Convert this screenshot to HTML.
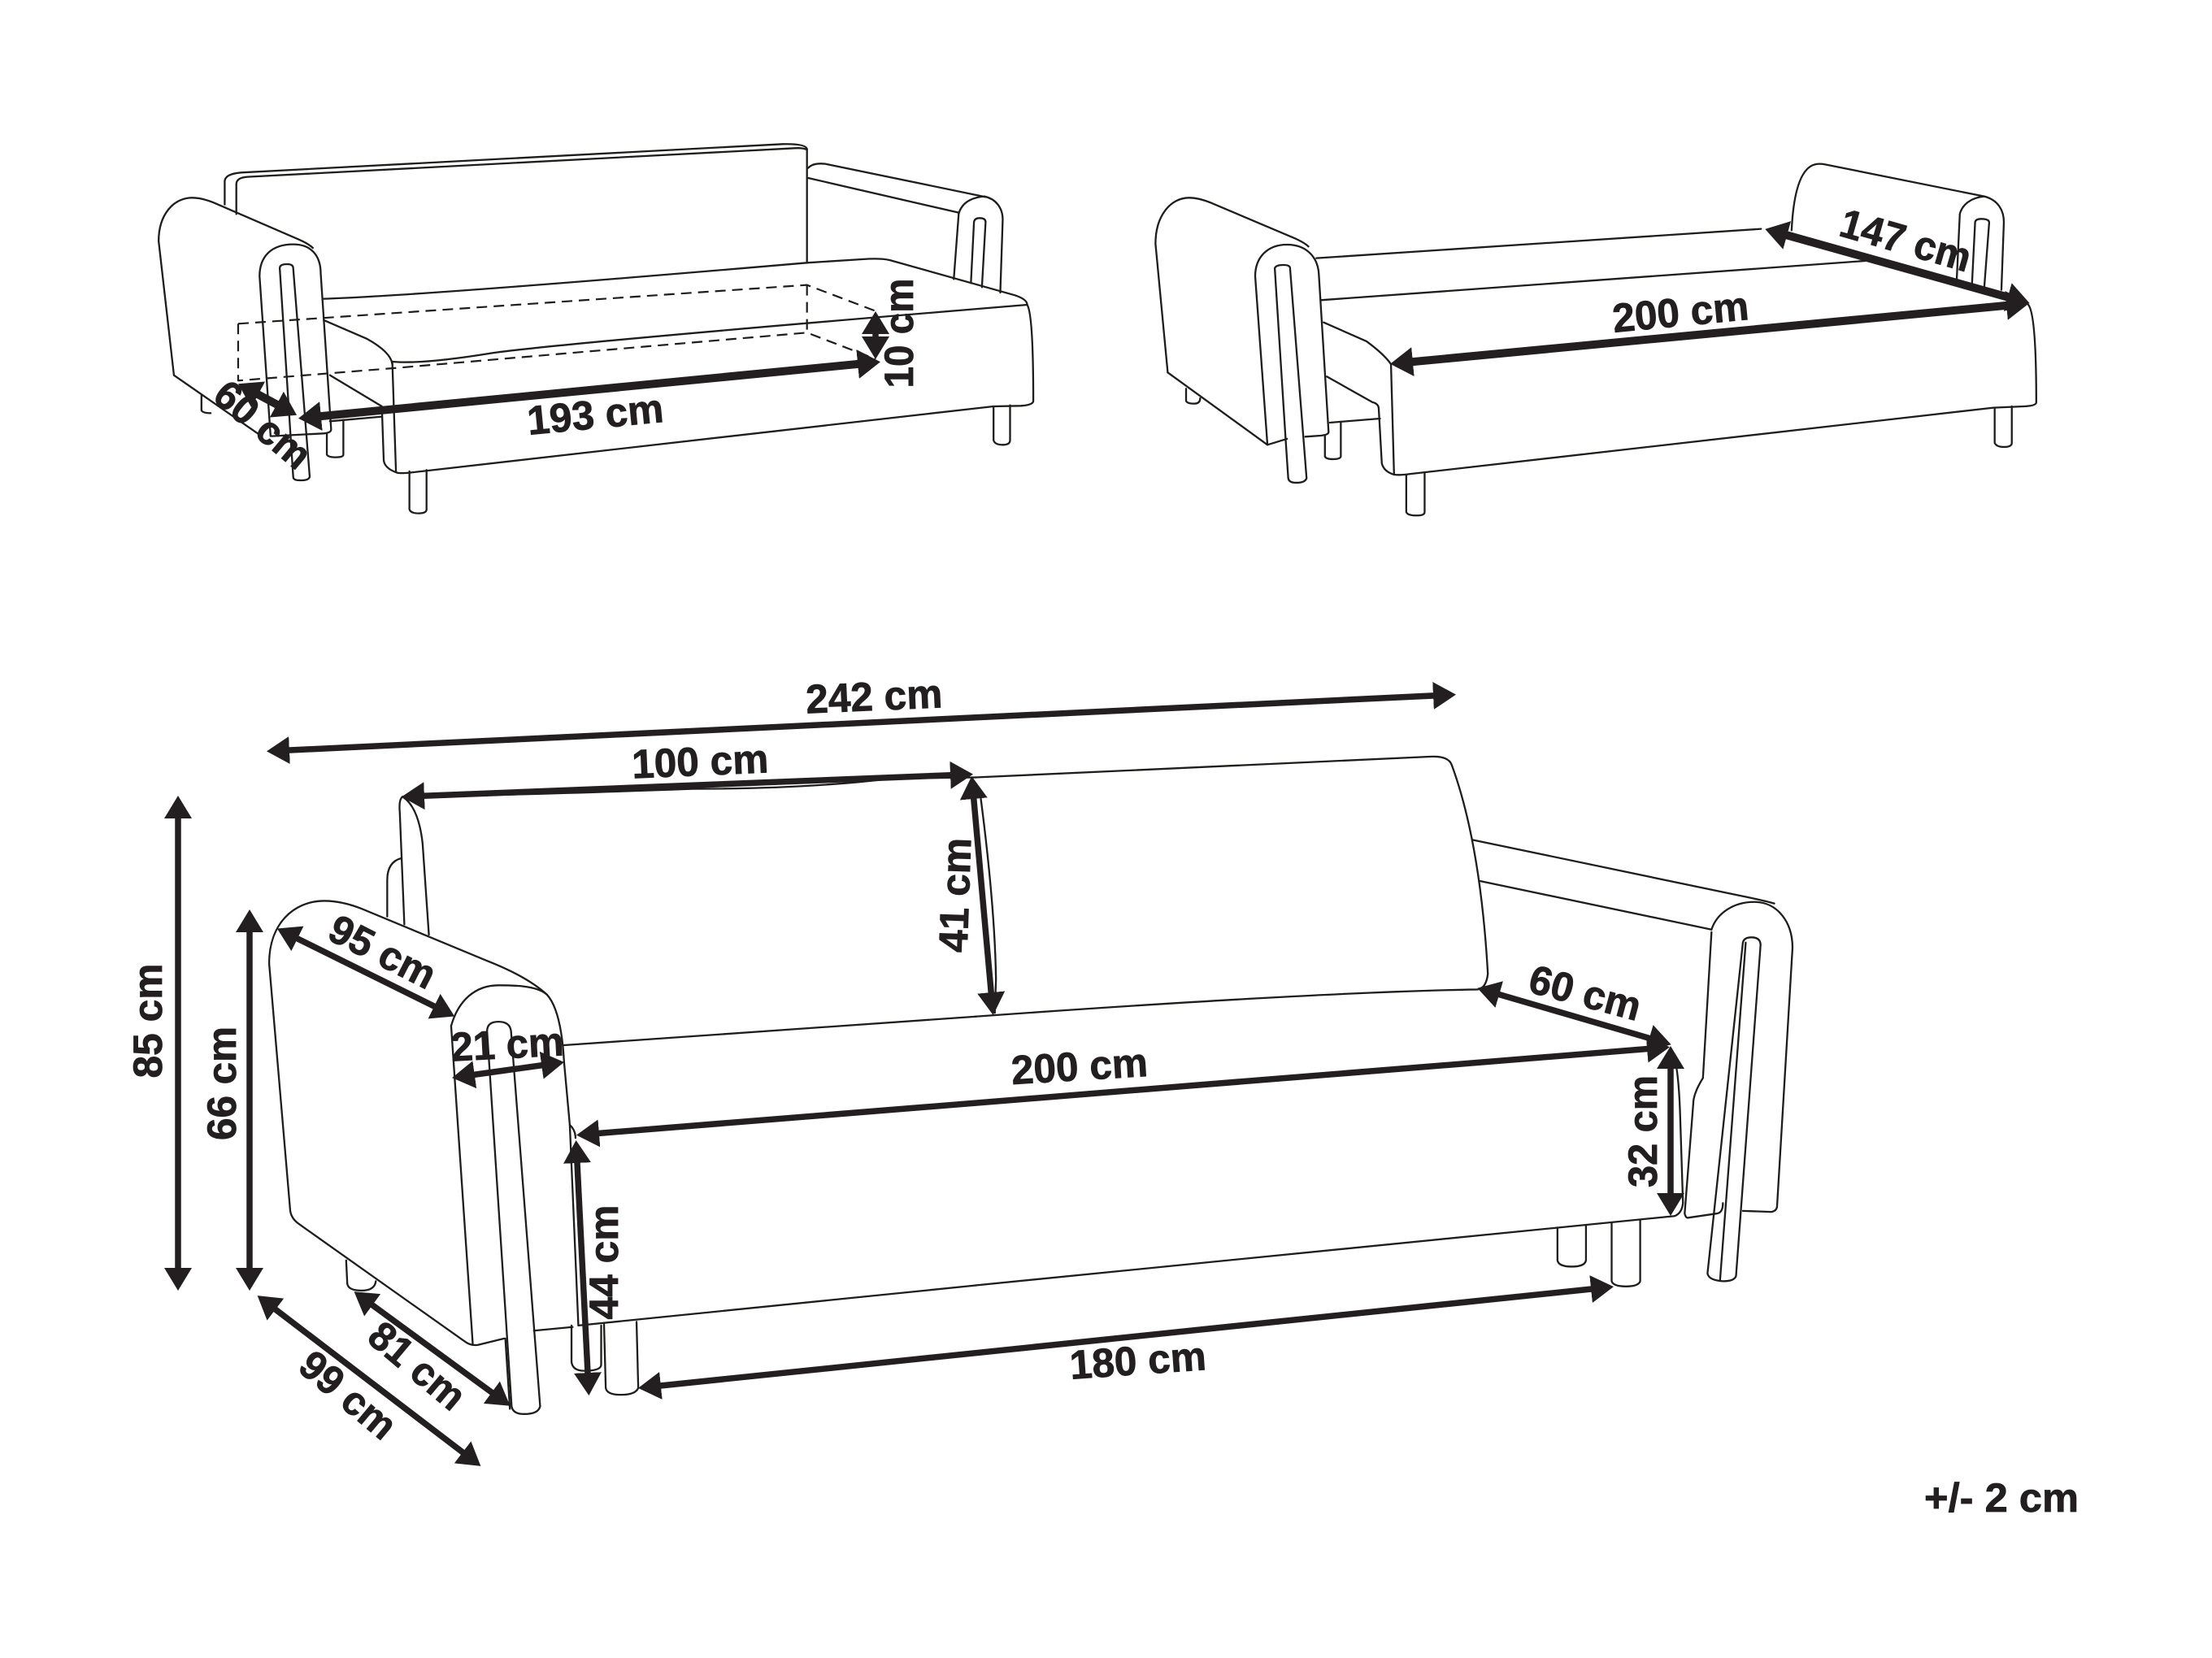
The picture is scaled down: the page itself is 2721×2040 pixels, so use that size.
<!DOCTYPE html>
<html>
<head>
<meta charset="utf-8">
<title>Sofa dimensions</title>
<style>
html,body{margin:0;padding:0;background:#fff}
svg{display:block}
.d path{fill:none;stroke:#1d1d1b;stroke-width:2.3;vector-effect:non-scaling-stroke;stroke-linecap:round;stroke-linejoin:round}
.d path.dash{stroke-dasharray:13 8;stroke-width:2.2;stroke-linecap:butt}
.a line{stroke:#231f20;stroke-width:7.5;marker-start:url(#h);marker-end:url(#h)}
.b line{stroke:#231f20;stroke-width:10;marker-start:url(#h2);marker-end:url(#h2)}
text{font-family:"Liberation Sans",sans-serif;font-weight:700;font-size:50px;fill:#231f20;stroke:#231f20;stroke-width:.8;text-anchor:middle}
</style>
</head>
<body>
<svg xmlns="http://www.w3.org/2000/svg" width="2721" height="2040" viewBox="0 0 2721 2040">
<defs>
<marker id="h" markerUnits="userSpaceOnUse" markerWidth="40" markerHeight="40" viewBox="0 -20 40 40" refX="20" refY="0" orient="auto-start-reverse"><path d="M0,-17 L28,0 L0,17 Z" fill="#231f20"/></marker>
<marker id="h2" markerUnits="userSpaceOnUse" markerWidth="40" markerHeight="40" viewBox="0 -20 40 40" refX="20" refY="0" orient="auto-start-reverse"><path d="M0,-18 L28,0 L0,18 Z" fill="#231f20"/></marker>
</defs>
<rect width="2721" height="2040" fill="#fff"/>

<!-- Top-left sofa -->
<g class="d" transform="translate(150,140) scale(0.7524,0.3333)">
<path d="M168,335 V250 Q168,222 195,217 L1080,112 Q1118,110 1120,130 V550"/>
<path d="M187,370 V260 Q187,236 205,233 L1100,127 Q1112,125 1120,132"/>
<path d="M1122,200 Q1130,180 1150,185 L1412,307"/>
<path d="M1122,237 L1368,365"/>
<path d="M1360,610 L1368,370 C1372,335 1385,310 1410,305 C1430,315 1440,350 1440,390 L1436,660"/>
<path d="M1388,625 L1393,400 Q1394,385 1402,385 Q1412,385 1412,400 L1406,640"/>
<path d="M85,965 L60,470 C60,370 85,310 115,310 Q130,310 150,328 L290,465 Q305,480 312,495"/>
<path d="M85,965 L225,1185"/>
<path d="M243,1190 L225,600 C225,525 245,482 280,482 C310,482 325,525 325,590 L342,1165 Q342,1178 330,1180 L245,1190"/>
<path d="M258,570 Q258,555 270,555 Q280,555 280,570 L307,1340 Q305,1355 290,1353 Q280,1353 280,1340 L258,570"/>
<path d="M130,1040 V1095 Q132,1105 145,1105"/>
<path d="M335,1180 V1258 Q337,1268 350,1268 Q362,1268 362,1258 V1130"/>
<path d="M330,683 Q500,670 1120,550 L1210,537 Q1240,532 1255,540 L1460,670 Q1480,685 1480,705"/>
<path d="M330,762 L400,830 Q440,880 442,925"/>
<path d="M442,915 Q490,925 600,885 Q700,850 1480,705"/>
<path d="M1480,705 Q1490,740 1490,1060 Q1490,1075 1470,1078 L1425,1080 L470,1325 Q455,1328 450,1325 Q430,1310 428,1280 L425,1085"/>
<path d="M442,915 L448,1320"/>
<path d="M340,965 L425,1080"/>
<path d="M340,1135 L425,1118"/>
<path d="M470,1320 V1460 Q472,1475 485,1475 Q498,1475 498,1460 V1315"/>
<path d="M1425,1082 V1205 Q1427,1222 1440,1222 Q1452,1222 1452,1205 V1076"/>
<path class="dash" d="M190,775 L1120,632 L1232,728"/>
<path class="dash" d="M190,775 V985 L450,938 L1120,808 L1232,905"/>
<path class="dash" d="M1120,632 V810"/>
</g>

<!-- Top-right sofa -->
<g class="d" transform="translate(1380,140) scale(0.7524,0.3333)">
<path d="M75,955 L55,480 C55,375 80,310 110,310 Q125,310 145,328 L285,462 Q300,478 305,490"/>
<path d="M75,955 L238,1222 L270,1200"/>
<path d="M300,1192 L325,1188 Q338,1185 338,1175 L322,590 C320,525 300,483 270,483 C238,483 218,530 218,600 L238,1222"/>
<path d="M250,570 Q252,558 264,558 Q275,558 275,570 L302,1345 Q300,1362 285,1362 Q273,1362 272,1345 L268,1210 L250,570"/>
<path d="M318,533 L1045,425"/>
<path d="M325,688 Q400,680 1215,543"/>
<path d="M330,770 L400,840 Q430,890 440,925 L445,1330"/>
<path d="M1482,705 Q1495,740 1495,1065 Q1495,1078 1475,1080 L1425,1085 L470,1330 Q455,1335 445,1332 Q428,1320 425,1290 L420,1090 Q420,1070 410,1065 L335,970"/>
<path d="M340,1140 L422,1125"/>
<path d="M105,1015 V1060 Q107,1070 118,1070 Q128,1070 128,1050"/>
<path d="M332,1190 V1265 Q334,1275 345,1275 Q357,1275 358,1265 V1140"/>
<path d="M465,1335 V1470 Q467,1483 482,1483 Q495,1483 495,1470 V1325"/>
<path d="M1427,1085 V1215 Q1430,1230 1442,1230 Q1455,1230 1455,1215 V1080"/>
<path d="M1095,430 C1098,290 1110,185 1140,185 Q1145,185 1150,187 L1410,305 C1432,318 1442,355 1442,400 L1438,650"/>
<path d="M1365,610 L1370,370 C1374,335 1388,310 1410,305"/>
<path d="M1390,625 L1395,400 Q1396,388 1405,388 Q1418,388 1418,402 L1410,640"/>
</g>

<!-- Main sofa, left part -->
<g class="d" transform="translate(150,820) scale(0.7018,0.641)">
<path d="M492,250 Q700,247 1000,235 Q1200,235 1350,215 L1497,213"/>
<path d="M492,250 Q485,255 487,280 L495,495"/>
<path d="M492,250 Q520,270 527,340 L538,515"/>
<path d="M465,480 V410 Q465,375 490,368"/>
<path d="M1505,250 Q1530,460 1532,600 L1530,665"/>
<path d="M258,570 C258,495 300,450 355,450 Q385,450 420,465 L640,565 Q710,595 745,630 Q770,660 775,760 L785,880 L800,1265"/>
<path d="M577,690 C590,640 620,612 660,612 C700,612 730,615 745,630"/>
<path d="M577,690 L615,1302"/>
<path d="M258,570 L295,1045 Q297,1060 310,1070 L600,1295 Q612,1305 625,1302 L670,1290"/>
<path d="M640,700 Q640,682 660,682 Q680,682 682,700 L733,1420 Q730,1435 705,1435 Q685,1435 683,1420 L640,700"/>
<path d="M672,1290 L680,1425"/>
<path d="M393,1140 L395,1185 Q397,1198 420,1198 Q443,1198 445,1180"/>
<path d="M788,1265 V1335 Q790,1352 810,1352 Q840,1352 840,1340 V1265"/>
<path d="M845,1263 L848,1385 Q850,1398 875,1398 Q900,1398 905,1385 L902,1258"/>
<path d="M722,1275 L790,1268"/>
<path d="M800,1265 L1497,1188"/>
<path d="M775,727 L1497,672"/>
<path d="M785,880 Q795,890 795,905"/>
</g>

<!-- Main sofa, right part -->
<g class="d" transform="translate(1200,820) scale(0.7018,0.641)">
<path d="M0,213 L800,173 Q830,172 835,190 Q885,340 898,590 Q895,618 880,620 Q600,625 0,672"/>
<path d="M872,333 L1340,440 Q1385,450 1400,455"/>
<path d="M885,412 L1290,505"/>
<path d="M1290,505 C1300,472 1330,452 1365,452 C1405,452 1432,490 1432,540 L1405,1035 Q1405,1045 1395,1047 L1345,1045"/>
<path d="M1290,510 L1275,790 Q1258,820 1258,840 L1243,1050 Q1245,1060 1250,1058 L1300,1050 Q1310,1048 1310,1030"/>
<path d="M1345,530 Q1347,520 1360,520 Q1376,520 1376,535 L1333,1170 Q1330,1180 1310,1180 Q1285,1178 1283,1165 L1345,530"/>
<path d="M1350,530 L1305,1178"/>
<path d="M1220,735 Q1232,760 1235,860 L1240,1030 Q1238,1050 1225,1055 L0,1188"/>
<path d="M1020,1077 V1140 Q1022,1152 1045,1152 Q1068,1152 1070,1140 V1072"/>
<path d="M1115,1068 V1180 Q1118,1190 1140,1190 Q1162,1190 1165,1180 V1062"/>
</g>

<!-- Dimension arrows, main view -->
<g class="a">
<line x1="336" y1="924" x2="1783" y2="855"/>
<line x1="502" y1="980" x2="1189" y2="953"/>
<line x1="1196" y1="963" x2="1221" y2="1241"/>
<line x1="219" y1="987" x2="219" y2="1580"/>
<line x1="307" y1="1127" x2="307" y2="1580"/>
<line x1="348" y1="1146" x2="552" y2="1247"/>
<line x1="564" y1="1325" x2="686" y2="1308"/>
<line x1="717" y1="1396" x2="2046" y2="1289"/>
<line x1="709" y1="1411" x2="724" y2="1709"/>
<line x1="793" y1="1707" x2="1977" y2="1584"/>
<line x1="1825" y1="1218" x2="2048" y2="1283"/>
<line x1="2055" y1="1295" x2="2055" y2="1488"/>
<line x1="442" y1="1594" x2="621" y2="1725"/>
<line x1="323" y1="1599" x2="585" y2="1799"/>
</g>

<!-- Dimension arrows, top views -->
<g class="b">
<line x1="375" y1="514" x2="1075" y2="446"/>
<line x1="300" y1="476" x2="358" y2="507"/>
<line x1="1718" y1="447" x2="2488" y2="374"/>
<line x1="2179" y1="284" x2="2489" y2="371"/>
</g>
<g class="a">
<line x1="1077" y1="391" x2="1077" y2="434"/>
</g>

<!-- Labels -->
<text transform="translate(1076,876) rotate(-2.5)" y="-2" textLength="168" lengthAdjust="spacingAndGlyphs">242 cm</text>
<text transform="translate(862,956) rotate(-2.5)" y="-2" textLength="168" lengthAdjust="spacingAndGlyphs">100 cm</text>
<text transform="translate(1194,1102) rotate(-88)" y="-2" textLength="141" lengthAdjust="spacingAndGlyphs">41 cm</text>
<text transform="translate(201,1256) rotate(-90)" y="-2" textLength="141" lengthAdjust="spacingAndGlyphs">85 cm</text>
<text transform="translate(292,1333) rotate(-90)" y="-2" textLength="140" lengthAdjust="spacingAndGlyphs">66 cm</text>
<text transform="translate(462,1188) rotate(27)" y="-2" textLength="140" lengthAdjust="spacingAndGlyphs">95 cm</text>
<text transform="translate(625,1304) rotate(-3)" y="-2" textLength="139" lengthAdjust="spacingAndGlyphs">21 cm</text>
<text transform="translate(1329,1331) rotate(-3.5)" y="-2" textLength="168" lengthAdjust="spacingAndGlyphs">200 cm</text>
<text transform="translate(762,1553) rotate(-90)" y="-2" textLength="141" lengthAdjust="spacingAndGlyphs">44 cm</text>
<text transform="translate(1401,1693) rotate(-4)" y="-2" textLength="168" lengthAdjust="spacingAndGlyphs">180 cm</text>
<text transform="translate(1945,1240) rotate(15)" y="-2" textLength="140" lengthAdjust="spacingAndGlyphs">60 cm</text>
<text transform="translate(2040,1392) rotate(-90)" y="-2" textLength="138" lengthAdjust="spacingAndGlyphs">32 cm</text>
<text transform="translate(501,1695) rotate(40)" y="-2" textLength="138" lengthAdjust="spacingAndGlyphs">81 cm</text>
<text transform="translate(416,1731) rotate(40)" y="-2" textLength="138" lengthAdjust="spacingAndGlyphs">99 cm</text>
<text x="2462" y="1860" textLength="190" lengthAdjust="spacingAndGlyphs">+/- 2 cm</text>
<text transform="translate(734,529) rotate(-5.5)" y="-2" textLength="168" lengthAdjust="spacingAndGlyphs">193 cm</text>
<text transform="translate(311,537) rotate(40)" y="-2" textLength="138" lengthAdjust="spacingAndGlyphs">60 cm</text>
<text transform="translate(1125,410) rotate(-90)" y="-2" textLength="135" lengthAdjust="spacingAndGlyphs">10 cm</text>
<text transform="translate(2069,403) rotate(-5.5)" y="-2" textLength="168" lengthAdjust="spacingAndGlyphs">200 cm</text>
<text transform="translate(2339,314) rotate(16)" y="-2" textLength="165" lengthAdjust="spacingAndGlyphs">147 cm</text>
</svg>
</body>
</html>
